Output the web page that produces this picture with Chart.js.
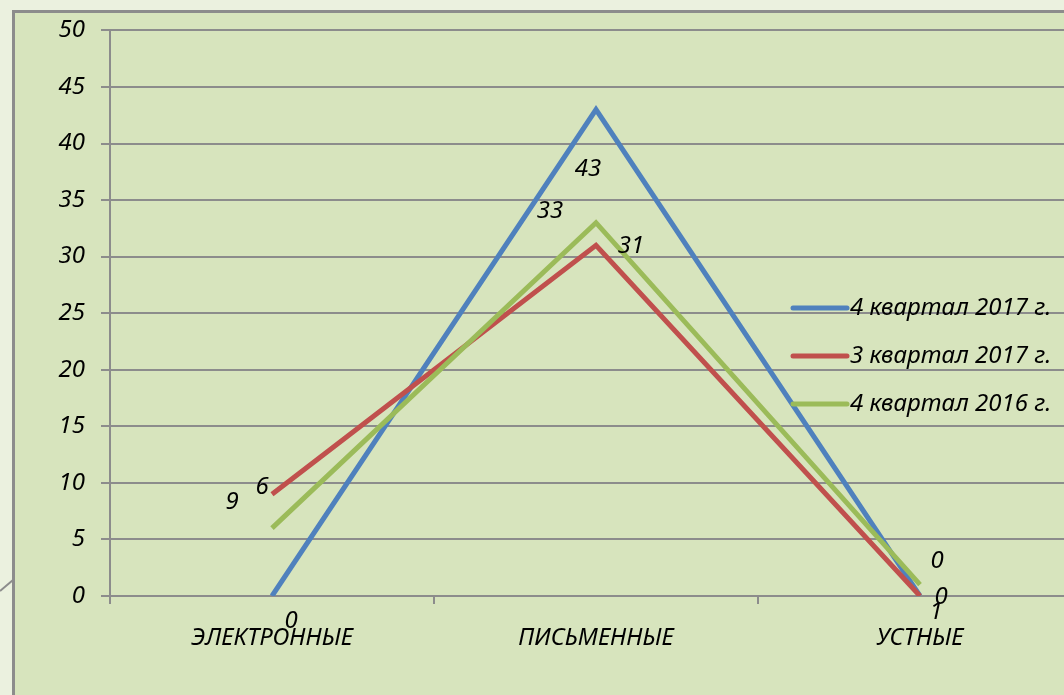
<!DOCTYPE html>
<html>
<head>
<meta charset="utf-8">
<script src="https://cdn.jsdelivr.net/npm/chart.js@4.4.1/dist/chart.umd.min.js"></script>
<style>
    html, body { margin: 0; padding: 0; overflow: hidden; background: #ebf1df; width: 1064px; height: 695px; }
    #frame { position: absolute; left: 12px; top: 10px; width: 1100px; height: 720px; border: 3px solid #8c8c8c; background: #d7e4bd; }
    #canvas { position: absolute; left: 0; top: 0; }
    #mark { position: absolute; left: 0; top: 575px; }
</style>
</head>
<body>
<div id="frame"></div>
<svg id="mark" width="14" height="30"><line x1="0" y1="16" x2="13" y2="5" stroke="#8c8c8c" stroke-width="2"/></svg>
<canvas id="canvas" width="1100" height="695"></canvas>
<script>
var categories = ['ЭЛЕКТРОННЫЕ', 'ПИСЬМЕННЫЕ', 'УСТНЫЕ'];
var seriesNames = ['4 квартал 2017 г.', '3 квартал 2017 г.', '4 квартал 2016 г.'];
var q4_2017 = [0, 43, 0];
var q3_2017 = [9, 31, 0];
var q4_2016 = [6, 33, 1];
var yTicks = [0, 5, 10, 15, 20, 25, 30, 35, 40, 45, 50];

var seriesColors = ['#4f81bd', '#c0504d', '#9bbb59'];
var font = { family: '"Noto Sans", sans-serif', size: 24, style: 'italic' };
var fontCss = 'italic 24px "Noto Sans", sans-serif';

// where each value label sits, relative to its point (like Excel put them)
var labelOffsets = [
    [[19, 25], [-8, 60], [17, -35]],
    [[-40, 8], [35, 1], [21, 1]],
    [[-10, -41], [-46, -12], [16, 27]]
];

var valueLabels = {
    id: 'valueLabels',
    afterDatasetsDraw(chart) {
        var ctx = chart.ctx;
        ctx.save();
        ctx.font = fontCss;
        ctx.fillStyle = '#000';
        ctx.textAlign = 'center';
        ctx.textBaseline = 'middle';
        chart.data.datasets.forEach(function (ds, i) {
            chart.getDatasetMeta(i).data.forEach(function (pt, j) {
                var off = labelOffsets[i][j];
                ctx.fillText(String(ds.data[j]), pt.x + off[0], pt.y + off[1]);
            });
        });
        ctx.restore();
    }
};

// legend sits inside the plot on the right, as in the original
var sideLegend = {
    id: 'sideLegend',
    afterDraw(chart) {
        var ctx = chart.ctx;
        var x = 793, y0 = 308, step = 48;
        ctx.save();
        ctx.font = fontCss;
        ctx.textBaseline = 'middle';
        ctx.textAlign = 'left';
        chart.data.datasets.forEach(function (ds, i) {
            var y = y0 + i * step;
            ctx.strokeStyle = ds.borderColor;
            ctx.lineWidth = 5;
            ctx.lineCap = 'round';
            ctx.beginPath();
            ctx.moveTo(x, y);
            ctx.lineTo(x + 54, y);
            ctx.stroke();
            ctx.fillStyle = '#000';
            ctx.fillText(ds.label, x + 57, y);
        });
        ctx.restore();
    }
};

var seriesData = [q4_2017, q3_2017, q4_2016];

var ctx = document.getElementById('canvas').getContext('2d');
window.myLine = new Chart(ctx, {
    type: 'line',
    data: {
        labels: categories,
        datasets: seriesData.map(function (d, i) {
            return {
                label: seriesNames[i],
                data: d,
                borderColor: seriesColors[i],
                backgroundColor: seriesColors[i],
                borderWidth: 5,
                pointRadius: 0,
                tension: 0,
                fill: false,
                order: 3 - i
            };
        })
    },
    options: {
        responsive: false,
        animation: false,
        layout: { padding: { left: 0, top: 26, right: 18, bottom: 0 } },
        plugins: {
            legend: { display: false },
            tooltip: { enabled: false }
        },
        scales: {
            x: {
                offset: true,
                afterFit: function (scale) { scale.height = 99; },
                grid: {
                    offset: true,
                    drawOnChartArea: false,
                    color: '#8c8c8c',
                    lineWidth: 2,
                    tickLength: 8
                },
                border: { color: '#8c8c8c', width: 2 },
                ticks: { color: '#000', font: font, padding: 20, maxRotation: 0 }
            },
            y: {
                min: 0,
                max: 50,
                afterFit: function (scale) { scale.width = 110; },
                afterBuildTicks: function (scale) {
                    scale.ticks = yTicks.map(function (v) { return { value: v }; });
                },
                grid: { color: '#8c8c8c', lineWidth: 2, tickLength: 9 },
                border: { color: '#8c8c8c', width: 2 },
                ticks: { color: '#000', font: font, padding: 16 }
            }
        }
    },
    plugins: [valueLabels, sideLegend]
});
</script>
</body>
</html>
